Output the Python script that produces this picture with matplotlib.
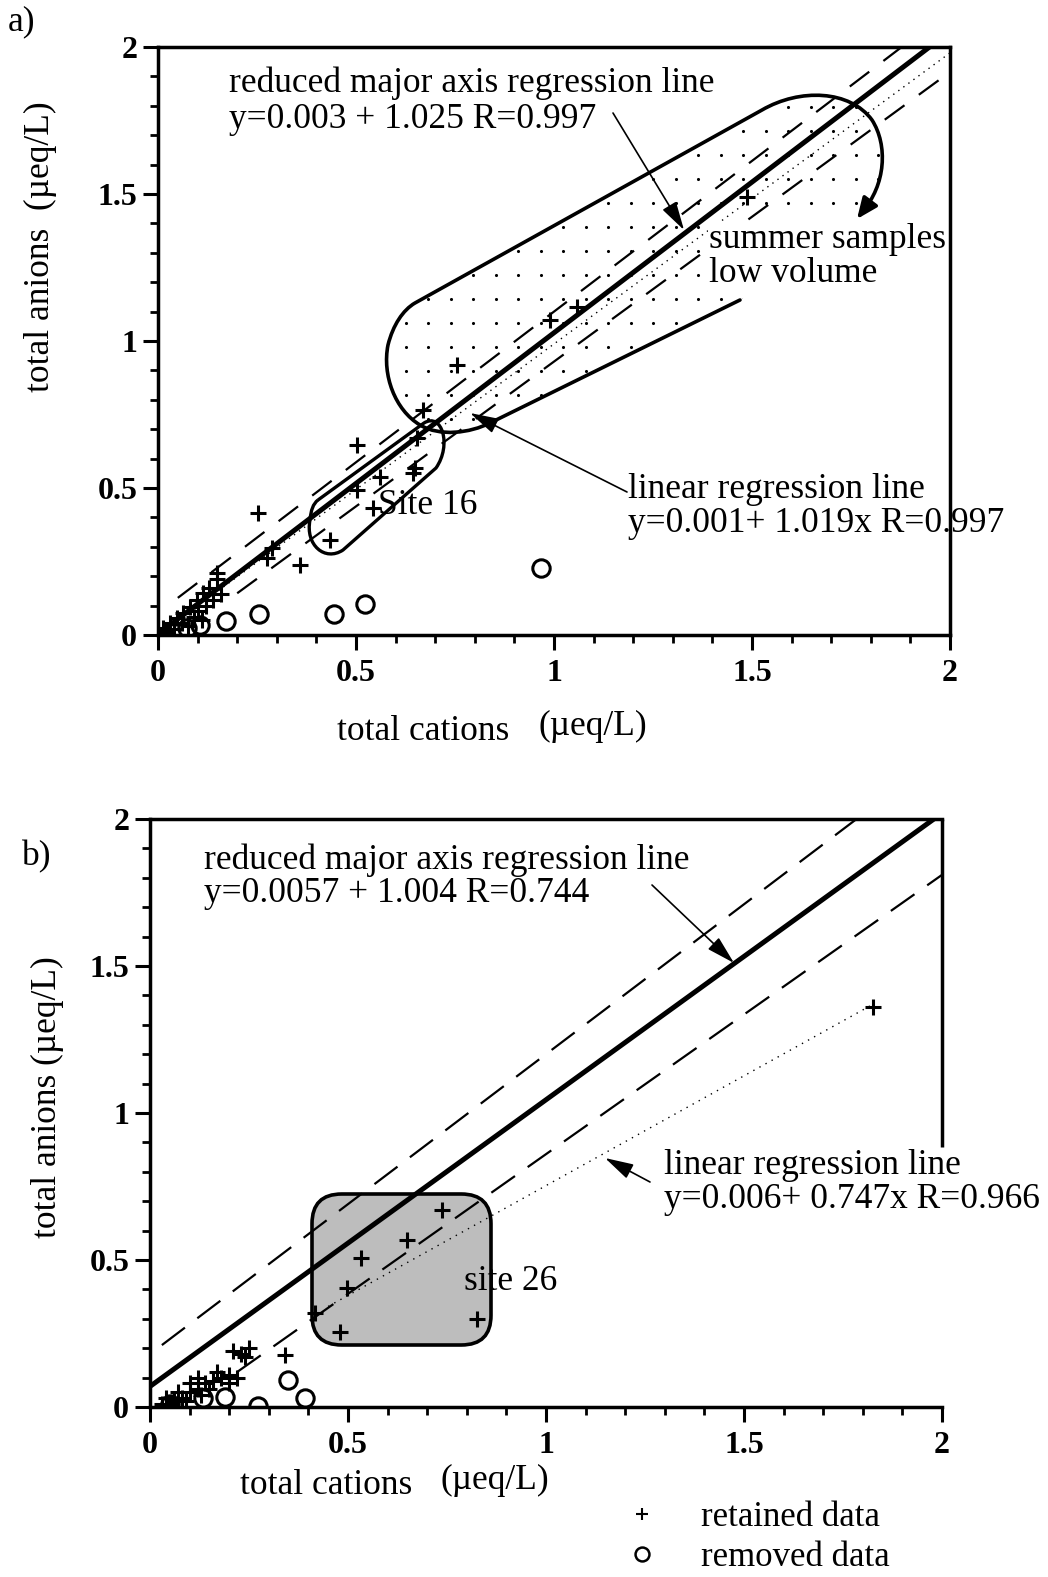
import numpy as np
import matplotlib
matplotlib.use('Agg')
import matplotlib.pyplot as plt
from matplotlib.path import Path
from matplotlib.patches import PathPatch, FancyBboxPatch
from matplotlib.lines import Line2D

plt.rcParams['font.family'] = ['Liberation Serif', 'DejaVu Serif']

# ---------------- data ----------------
tick_vals = [0, 0.5, 1, 1.5, 2]
tick_labels = ['0', '0.5', '1', '1.5', '2']
minor_vals = [0.1, 0.2, 0.3, 0.4, 0.6, 0.7, 0.8, 0.9, 1.1, 1.2, 1.3, 1.4, 1.6, 1.7, 1.8, 1.9]

# panel a
a_ret_x = [1.487, 1.057, 0.991, 0.754, 0.668, 0.653, 0.649, 0.645, 0.561, 0.502, 0.544, 0.434,
           0.502, 0.253, 0.359, 0.287, 0.274, 0.148, 0.150, 0.130, 0.114, 0.098, 0.081, 0.064,
           0.047, 0.030, 0.013, 0.120, 0.090, 0.060, 0.040, 0.020, 0.100, 0.140, 0.160, 0.075, 0.110]
a_ret_y = [1.491, 1.117, 1.071, 0.918, 0.765, 0.669, 0.567, 0.550, 0.538, 0.493, 0.431, 0.323,
           0.646, 0.416, 0.238, 0.296, 0.262, 0.210, 0.190, 0.160, 0.142, 0.119, 0.096, 0.074,
           0.057, 0.040, 0.023, 0.100, 0.060, 0.040, 0.020, 0.010, 0.080, 0.120, 0.140, 0.030, 0.050]
a_rem_x = [0.967, 0.523, 0.444, 0.256, 0.172, 0.106, 0.072]
a_rem_y = [0.228, 0.105, 0.072, 0.072, 0.048, 0.034, 0.023]
# (intercept, slope) of drawn lines
a_rma = (0.003, 1.025)
a_upper = (0.075, 1.025)
a_lower = (-0.055, 0.985)
a_dotted = (0.0, 0.99)

# panel b
b_ret_x = [1.827, 0.737, 0.648, 0.534, 0.497, 0.480, 0.825, 0.417, 0.341, 0.210, 0.230, 0.250,
           0.240, 0.05, 0.06, 0.08, 0.10, 0.12, 0.14, 0.16, 0.18, 0.20, 0.12, 0.10, 0.07, 0.04,
           0.03, 0.15, 0.22, 0.09, 0.13, 0.17, 0.20]
b_ret_y = [1.362, 0.670, 0.568, 0.506, 0.404, 0.256, 0.300, 0.320, 0.177, 0.190, 0.180, 0.200,
           0.170, 0.01, 0.02, 0.03, 0.05, 0.06, 0.08, 0.09, 0.10, 0.08, 0.10, 0.08, 0.05, 0.03,
           0.01, 0.06, 0.10, 0.02, 0.04, 0.12, 0.11]
b_rem_x = [0.349, 0.391, 0.273, 0.189, 0.134, 0.050]
b_rem_y = [0.092, 0.030, 0.003, 0.035, 0.030, 0.010]
b_rma = (0.07, 0.975)
b_upper = (0.18, 1.02)
b_lower = (-0.09, 0.95)
b_lin = (0.006, 0.747)

# ---------------- figure ----------------
W, H = 1048, 1577
DPI = 100
fig = plt.figure(figsize=(W / DPI, H / DPI), dpi=DPI)


def px_axes(left, top, right, bottom):
    return fig.add_axes([left / W, 1 - bottom / H, (right - left) / W, (bottom - top) / H])


ax_a = px_axes(158, 47, 950, 635)
ax_b = px_axes(150, 819, 942, 1407)

for ax in (ax_a, ax_b):
    ax.set_xlim(0, 2)
    ax.set_ylim(0, 2)
    ax.set_xticks(tick_vals)
    ax.set_xticklabels(tick_labels, fontweight='bold')
    ax.set_yticks(tick_vals)
    ax.set_yticklabels(tick_labels, fontweight='bold')
    ax.set_xticks(minor_vals, minor=True)
    ax.set_yticks(minor_vals, minor=True)
    ax.tick_params(which='major', direction='out', length=11, width=2.2, labelsize=23)
    ax.tick_params(axis='x', which='major', pad=6)
    ax.tick_params(axis='y', which='major', pad=4)
    ax.tick_params(which='minor', direction='out', length=6, width=2)
    for s in ax.spines.values():
        s.set_linewidth(2.5)
    ax.patch.set_alpha(0)


def P(ax, px, py):
    return tuple(ax.transData.inverted().transform((px, H - py)))


def ftext(px, py, s, **kw):
    kw.setdefault('fontsize', 25.5)
    kw.setdefault('va', 'center')
    kw.setdefault('ha', 'left')
    return fig.text(px / W, 1 - py / H, s, **kw)


def line(ax, coef, x0, x1, **kw):
    xs = np.array([x0, x1])
    ax.plot(xs, coef[0] + coef[1] * xs, **kw)


def path_px(ax, pts, codes):
    verts = [P(ax, *p) for p in pts]
    return Path(verts, codes)


def arrow_px(ax, tail, head, lw=1.2, hl=0.8, hw=0.22, ms=22):
    ax.annotate('', xy=P(ax, *head), xytext=P(ax, *tail),
                arrowprops=dict(arrowstyle='-|>,head_length=%g,head_width=%g' % (hl, hw),
                                lw=lw, color='k', mutation_scale=ms, shrinkA=0, shrinkB=0),
                annotation_clip=False)


M, L, C = Path.MOVETO, Path.LINETO, Path.CURVE4

# ---------------- panel a ----------------
ax = ax_a
# summer samples region (outline + dotted fill)
summer_pts = [(740, 300), (490, 423),
              (470, 433), (440, 437), (420, 425),
              (395, 410), (382, 375), (388, 345),
              (393, 325), (403, 310), (415, 303),
              (762, 110),
              (800, 88), (850, 90), (872, 120),
              (888, 145), (886, 185), (862, 212)]
summer_codes = [M, L, C, C, C, C, C, C, C, C, C, L, C, C, C, C, C, C]
summer_path = path_px(ax, summer_pts, summer_codes)
fill_patch = PathPatch(path_px(ax, summer_pts + [(740, 300)], summer_codes + [L]),
                       facecolor='none', edgecolor='none', lw=0)
ax.add_patch(fill_patch)
# regular dot screen (decoration) clipped to the region
gx, gy = np.meshgrid(np.arange(0.0, 2.0, 22.5 / 396), np.arange(0.0, 2.0, 24.0 / 294))
dots = ax.scatter(gx.ravel(), gy.ravel(), s=5, color='k', lw=0, zorder=1)
dots.set_clip_path(fill_patch)
ax.add_patch(PathPatch(summer_path, facecolor='none', edgecolor='k', lw=2.6, zorder=2,
                       capstyle='round', joinstyle='round'))
arrow_px(ax, (866, 207), (857, 219), lw=2.6, hl=0.7, hw=0.3, ms=18)

# Site 16 region
site16_pts = [(318, 500), (424, 423),
              (442, 412), (452, 445), (436, 468),
              (343, 550),
              (325, 562), (305, 545), (310, 520),
              (311, 510), (313, 504), (318, 500)]
site16_codes = [M, L, C, C, C, L, C, C, C, C, C, C]
ax.add_patch(PathPatch(path_px(ax, site16_pts, site16_codes), facecolor='none',
                       edgecolor='k', lw=2.4, zorder=2))

line(ax, a_upper, 0.05, 2.0, color='k', lw=1.6, dashes=(11, 8), zorder=2)
line(ax, a_lower, 0.2, 2.0, color='k', lw=1.6, dashes=(11, 8), zorder=2)
line(ax, a_dotted, 0.0, 2.0, color='k', lw=1.0, dashes=(1, 3.5), zorder=2)
line(ax, a_rma, 0.0, 2.0, color='k', lw=3.6, zorder=3)
ax.plot(a_ret_x, a_ret_y, ls='none', marker='+', ms=11, mew=2.2, color='k', zorder=4)
ax.plot(a_rem_x, a_rem_y, ls='none', marker='o', ms=12.5, mew=2.2, mfc='none', mec='k', zorder=4)

arrow_px(ax, (613, 113), (684, 230))
arrow_px(ax, (627, 492), (470, 413))

wbox = dict(facecolor='white', edgecolor='none', pad=1)
ftext(229, 83, 'reduced major axis regression line')
ftext(229, 119, 'y=0.003 + 1.025 R=0.997')
ftext(709, 240, 'summer samples', bbox=wbox, zorder=5)
ftext(709, 274, 'low volume', bbox=wbox, zorder=5)
ftext(628, 489, 'linear regression line')
ftext(628, 523, 'y=0.001+ 1.019x R=0.997')
ftext(378, 505, 'Site 16')
ftext(8, 22, 'a)')
ftext(337, 731, 'total cations')
ftext(538, 726, '(\u00b5eq/L)')
ftext(40, 247, 'total anions  (\u00b5eq/L)', rotation=90, ha='center')

# ---------------- panel b ----------------
ax = ax_b
ax.spines['right'].set_visible(False)
ax.plot([1, 1], [P(ax, 0, 1147)[1], 2], transform=ax.get_yaxis_transform(),
        color='k', lw=2.5, solid_capstyle='butt', clip_on=False)

bx0, by1 = P(ax, 312, 1194)
bx1, by0 = P(ax, 491, 1345)
ax.add_patch(FancyBboxPatch((bx0, by0), bx1 - bx0, by1 - by0,
                            boxstyle='round,pad=0,rounding_size=0.075', mutation_aspect=396 / 294,
                            facecolor='#bdbdbd', edgecolor='k', lw=2.6, zorder=1))

line(ax, b_upper, 0.03, 2.0, color='k', lw=1.6, dashes=(13, 7), zorder=2)
line(ax, b_lower, 0.22, 2.0, color='k', lw=1.6, dashes=(13, 7), zorder=2)
line(ax, b_lin, 0.45, 1.827, color='k', lw=1.0, dashes=(1, 4), zorder=2)
line(ax, b_rma, 0.0, 2.0, color='k', lw=3.6, zorder=3)
ax.plot(b_ret_x, b_ret_y, ls='none', marker='+', ms=11, mew=2.2, color='k', zorder=4)
ax.plot(b_rem_x, b_rem_y, ls='none', marker='o', ms=12.5, mew=2.2, mfc='none', mec='k', zorder=4)

arrow_px(ax, (652, 885), (734, 963))
arrow_px(ax, (650, 1182), (605, 1158))

ftext(204, 860, 'reduced major axis regression line')
ftext(204, 893, 'y=0.0057 + 1.004 R=0.744')
ftext(664, 1165, 'linear regression line')
ftext(664, 1200, 'y=0.006+ 0.747x R=0.966')
ftext(464, 1282, 'site 26')
ftext(22, 857, 'b)')
ftext(240, 1485, 'total cations')
ftext(440, 1480, '(\u00b5eq/L)')
ftext(47, 1097, 'total anions (\u00b5eq/L)', rotation=90, ha='center')

# ---------------- legend ----------------
handles = [Line2D([], [], ls='none', marker='+', ms=9, mew=1.5, color='k'),
           Line2D([], [], ls='none', marker='o', ms=10, mew=1.8, mfc='none', mec='k')]
fig.legend(handles, ['retained data', 'removed data'], loc='upper left',
           bbox_to_anchor=(604 / W, 1 - 1484 / H), frameon=False, fontsize=25,
           handletextpad=1.1, labelspacing=0.2, handlelength=1.2, borderpad=0)

fig.savefig('out.png', dpi=DPI)
